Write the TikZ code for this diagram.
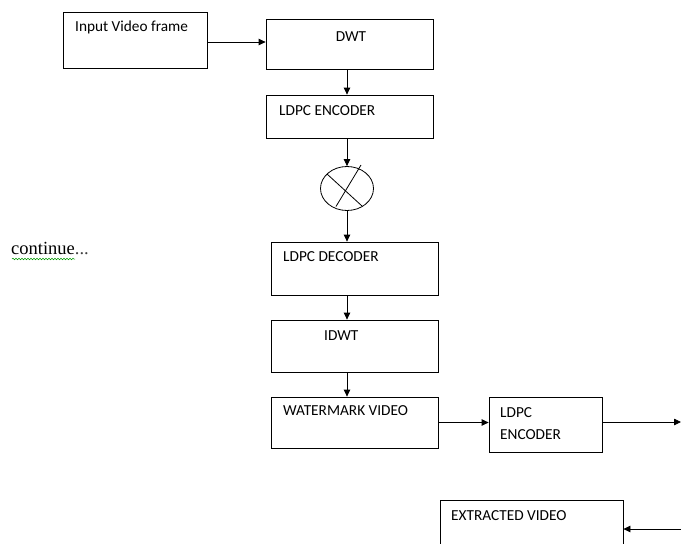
\documentclass[tikz,border=0pt]{standalone}
\usepackage{fontspec}
\setmainfont{Carlito}
\newfontfamily\serifface{Liberation Serif}
\usetikzlibrary{arrows.meta,calc,shapes.geometric,decorations.pathmorphing}
\begin{document}
\begin{tikzpicture}[x=1pt,y=-1pt,
  box/.style={draw,line width=0.8pt,rectangle,inner sep=0pt},
  lbl/.style={anchor=west,inner sep=0pt,font=\fontsize{15.3}{18}\selectfont},
  arr/.style={line width=0.8pt,-{Triangle[length=7pt,width=6.5pt]}}]
\useasboundingbox (0,0) rectangle (681,544);
% boxes
\node[box,minimum width=144,minimum height=56] (in) at (135,40) {};
\node[box,minimum width=167,minimum height=50] (dwt) at (349.5,44) {};
\node[box,minimum width=167,minimum height=43] (enc1) at (349.5,116.5) {};
\node[draw,line width=0.8pt,ellipse,minimum width=53,minimum height=44,inner sep=0pt] (mix) at (347,188.5) {};
\node[box,minimum width=167,minimum height=53] (dec) at (354.5,268.5) {};
\node[box,minimum width=167,minimum height=52] (idwt) at (354.5,346) {};
\node[box,minimum width=167,minimum height=51] (wm) at (354.5,422.5) {};
\node[box,minimum width=113,minimum height=55] (enc2) at (545.5,424.5) {};
\node[box,minimum width=183,minimum height=54] (ext) at (531.5,527) {};
\coordinate (outR) at (681,422);
\coordinate (inR) at (681,529);
\coordinate (inA) at (207,42);
% texts
\node[lbl] (tin) at (75,27) {Input Video frame};
\node[lbl,anchor=center] (tdwt) at (351,37) {DWT};
\node[lbl] (tenc1) at (279,111) {LDPC ENCODER};
\node[lbl] (tdec) at (283,257) {LDPC DECODER};
\node[lbl] (tidwt) at (324,336) {IDWT};
\node[lbl] (twm) at (283,411) {WATERMARK VIDEO};
\node[lbl] (tenc2a) at (500,413) {LDPC};
\node[lbl] (tenc2b) at (500,435) {ENCODER};
\node[lbl] (text) at (451,516) {EXTRACTED VIDEO};
\node[anchor=west,inner sep=0pt,font=\serifface\fontsize{18.5}{20}\selectfont] (cont) at (11,249) {continue{\color{black!75}...}};
% spell-check underline
\draw[green!60!black,line width=0.5pt,decorate,decoration={snake,amplitude=0.8pt,segment length=3pt}] (12,259) -- (75,259);
% X in circle
\draw[line width=0.8pt] ($(mix.center)+(-20,-14.5)$) -- ($(mix.center)+(15,17.5)$);
\draw[line width=0.8pt] ($(mix.center)+(14,-23.5)$) -- ($(mix.center)+(-11,18)$);
% connectors
\draw[arr] (inA) -- (inA -| dwt.west);
\draw[arr] (dwt.south -| mix) -- (enc1.north -| mix);
\draw[arr] (enc1.south -| mix) -- (mix.north);
\draw[arr] (mix.south) -- (dec.north -| mix);
\draw[arr] (dec.south -| mix) -- (idwt.north -| mix);
\draw[arr] (idwt.south -| mix) -- (wm.north -| mix);
\draw[arr] (wm.east) -- (wm.east -| enc2.west);
\draw[arr] (enc2.east |- outR) -- (outR);
\draw[arr] (inR) -- (inR -| ext.east);
\end{tikzpicture}
\end{document}
